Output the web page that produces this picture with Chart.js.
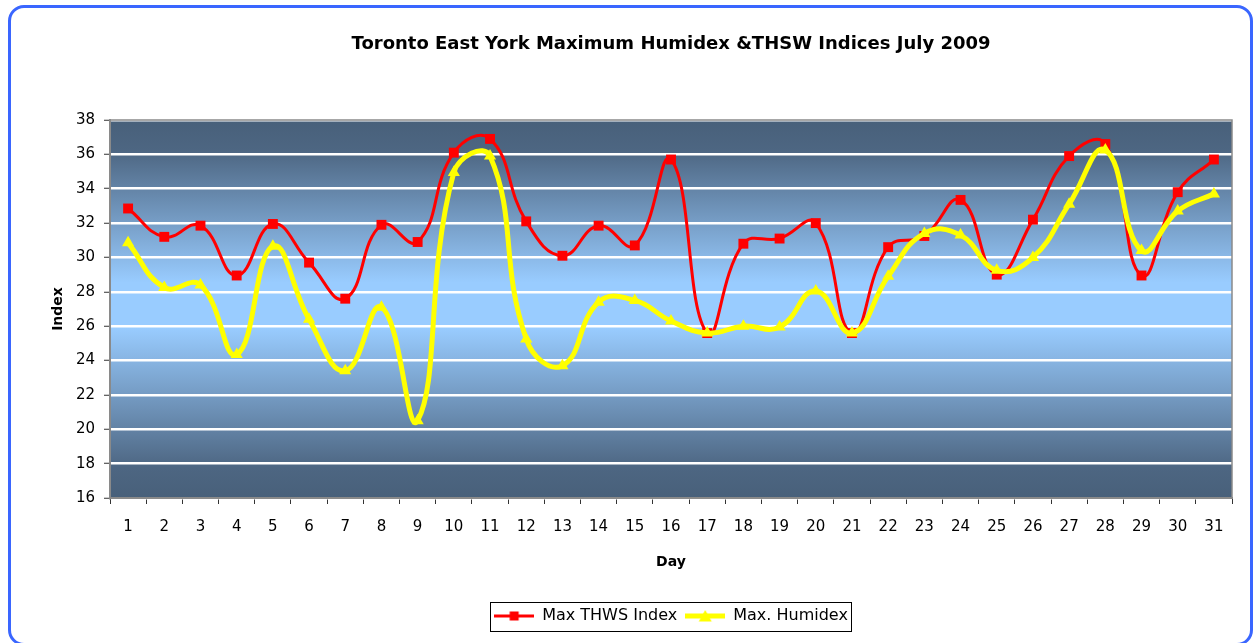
<!DOCTYPE html>
<html><head><meta charset="utf-8">
<script src="https://cdn.jsdelivr.net/npm/chart.js@4"></script>
<style>
html,body{margin:0;padding:0;background:#fff;overflow:hidden;}
#frame{position:absolute;left:8px;top:5px;width:1245px;height:641px;box-sizing:border-box;border:3px solid #3a66ff;border-radius:16px;}
#c{position:absolute;left:0;top:0;}
</style></head><body>
<div id="frame"></div>
<canvas id="c" width="1254" height="643"></canvas>
<script>
const days = ['1','2','3','4','5','6','7','8','9','10','11','12','13','14','15','16','17','18','19','20','21','22','23','24','25','26','27','28','29','30','31'];
const thswIndex = [32.85,31.2,31.85,28.95,31.95,29.7,27.6,31.9,30.9,36.1,36.9,32.1,30.1,31.85,30.7,35.7,25.6,30.8,31.1,32.0,25.6,30.6,31.25,33.35,29.0,32.2,35.9,36.6,28.95,33.8,35.7];
const humidex = [30.85,28.25,28.4,24.35,30.65,26.4,23.4,27.1,20.5,34.95,35.9,25.25,23.7,27.4,27.5,26.3,25.6,26.0,25.95,28.05,25.6,28.9,31.4,31.3,29.25,30.0,33.1,36.25,30.4,32.7,33.7];
const yTicks = [16,18,20,22,24,26,28,30,32,34,36,38];
const seriesNames = ['Max THWS Index','Max. Humidex'];

const FONT = 'DejaVu Sans';

function makeIcon(color, lw, shape){
  const c = document.createElement('canvas');
  c.width = 40; c.height = 14;
  const x = c.getContext('2d');
  x.strokeStyle = color; x.lineWidth = lw;
  x.beginPath(); x.moveTo(0,7); x.lineTo(40,7); x.stroke();
  x.fillStyle = color;
  if (shape === 'rect') { x.fillRect(15.5,2.5,9,9); }
  else { x.beginPath(); x.moveTo(20,1); x.lineTo(26.5,12.5); x.lineTo(13.5,12.5); x.closePath(); x.fill(); }
  return c;
}
const legendIcons = [makeIcon('#ff0000',3,'rect'), makeIcon('#ffff00',5,'tri')];

const plotDeco = {
  id:'plotDeco',
  beforeDraw(chart){
    const {ctx, chartArea:a} = chart;
    const g = ctx.createLinearGradient(0,a.top,0,a.bottom);
    g.addColorStop(0,'#48607a');
    g.addColorStop(0.08,'#4d6682');
    g.addColorStop(0.43,'#99ccff');
    g.addColorStop(0.55,'#99ccff');
    g.addColorStop(0.92,'#4d6682');
    g.addColorStop(1,'#48607a');
    ctx.save();
    ctx.fillStyle = g;
    ctx.fillRect(a.left,a.top,a.right-a.left,a.bottom-a.top);
    ctx.restore();
  },
  beforeDatasetsDraw(chart){
    const {ctx, chartArea:a} = chart;
    ctx.save();
    ctx.strokeStyle = '#8a8a8a'; ctx.lineWidth = 1.5;
    ctx.strokeRect(a.left, a.top, a.right-a.left, a.bottom-a.top);
    ctx.restore();
  },
  afterDraw(chart){
    const lg = chart.legend;
    if (!lg || !lg.legendHitBoxes || !lg.legendHitBoxes.length) return;
    const hb = lg.legendHitBoxes;
    let l = Infinity, r = -Infinity, t = Infinity, b = -Infinity;
    hb.forEach(h=>{ l=Math.min(l,h.left); r=Math.max(r,h.left+h.width); t=Math.min(t,h.top); b=Math.max(b,h.top+h.height); });
    const ctx = chart.ctx;
    ctx.save();
    ctx.strokeStyle = '#000'; ctx.lineWidth = 1;
    ctx.strokeRect(Math.round(l-4)+0.5, Math.round(t-6)+0.5, Math.round(r-l+7), 29);
    ctx.restore();
  }
};

new Chart(document.getElementById('c'), {
  type:'line',
  data:{
    labels: days,
    datasets:[
      {label:seriesNames[0], data:thswIndex, borderColor:'#ff0000', backgroundColor:'#ff0000', borderWidth:3,
       pointStyle:'rect', pointRadius:7, pointBackgroundColor:'#ff0000', pointBorderWidth:0, tension:0.45, order:1, fill:false},
      {label:seriesNames[1], data:humidex, borderColor:'#ffff00', backgroundColor:'#ffff00', borderWidth:5,
       pointStyle:'triangle', pointRadius:7, pointBackgroundColor:'#ffff00', pointBorderWidth:0, tension:0.45, order:0, fill:false}
    ]
  },
  options:{
    responsive:false, animation:false, devicePixelRatio:1,
    layout:{padding:{left:0,right:22,top:0,bottom:9}},
    plugins:{
      tooltip:{enabled:false},
      title:{display:true, text:'Toronto East York Maximum Humidex &THSW Indices July 2009', fullSize:false,
        color:'#000', font:{family:FONT, size:18, weight:'bold', lineHeight:1.2}, padding:{top:34,bottom:64.4}},
      legend:{display:true, position:'bottom', fullSize:false,
        labels:{usePointStyle:true, pointStyleWidth:40, padding:8, color:'#000', font:{family:FONT, size:16},
          generateLabels(chart){
            const items = Chart.defaults.plugins.legend.labels.generateLabels(chart);
            items.forEach(it=>{ it.pointStyle = legendIcons[it.datasetIndex]; });
            return items.sort((a,b)=>a.datasetIndex-b.datasetIndex);
          }}}
    },
    scales:{
      x:{type:'category', offset:true,
        grid:{display:true, drawOnChartArea:false, offset:true, tickLength:6, tickColor:'#333', tickWidth:1},
        border:{display:true, color:'#8a8a8a', width:2},
        ticks:{color:'#000', font:{family:FONT, size:15}, padding:14, maxRotation:0, autoSkip:false},
        title:{display:true, text:'Day', color:'#000', font:{family:FONT, size:14, weight:'bold', lineHeight:1.2}, padding:{top:4,bottom:29}},
        afterFit(s){ s.height = 102; }
      },
      y:{type:'linear', min:16, max:38,
        afterBuildTicks(s){ s.ticks = yTicks.map(v=>({value:v})); },
        grid:{display:true, color:'#ffffff', lineWidth:2.5, tickLength:6, tickColor:'#333', tickWidth:1},
        border:{display:true, color:'#8a8a8a', width:2},
        ticks:{color:'#000', font:{family:FONT, size:15}, padding:9},
        title:{display:true, text:'Index', color:'#000', font:{family:FONT, size:14, weight:'bold', lineHeight:1.2}, padding:{top:50,bottom:0}},
        afterFit(s){ s.width = 110; }
      }
    }
  },
  plugins:[plotDeco]
});
</script>
</body></html>
